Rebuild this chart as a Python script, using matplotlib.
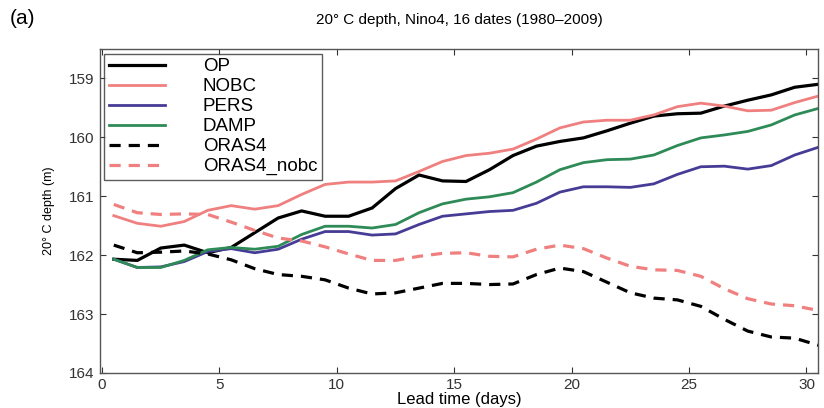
import numpy as np
import matplotlib
matplotlib.use("Agg")
import matplotlib.pyplot as plt

plt.rcParams['font.family'] = ['Liberation Sans', 'DejaVu Sans']

# lead time (days), one point per day
lead = [0.5 + i for i in range(31)]

op = [162.07, 162.09, 161.88, 161.83, 161.96, 161.87, 161.62, 161.37, 161.25, 161.34,
      161.34, 161.20, 160.87, 160.64, 160.74, 160.75, 160.55, 160.31, 160.15, 160.07,
      160.01, 159.89, 159.76, 159.64, 159.60, 159.59, 159.47, 159.37, 159.28, 159.15, 159.10]
nobc = [161.33, 161.46, 161.51, 161.43, 161.24, 161.16, 161.22, 161.16, 160.97, 160.80,
        160.76, 160.76, 160.74, 160.58, 160.41, 160.31, 160.27, 160.20, 160.03, 159.84,
        159.74, 159.71, 159.71, 159.62, 159.48, 159.42, 159.47, 159.55, 159.54, 159.41, 159.30]
pers = [162.07, 162.21, 162.20, 162.11, 161.94, 161.89, 161.96, 161.90, 161.73, 161.60,
        161.60, 161.66, 161.64, 161.48, 161.34, 161.30, 161.26, 161.24, 161.12, 160.93,
        160.84, 160.84, 160.85, 160.79, 160.63, 160.50, 160.49, 160.54, 160.48, 160.30, 160.17]
damp = [162.07, 162.21, 162.21, 162.09, 161.91, 161.87, 161.90, 161.85, 161.65, 161.51,
        161.51, 161.54, 161.48, 161.28, 161.13, 161.05, 161.01, 160.94, 160.76, 160.55,
        160.43, 160.38, 160.37, 160.30, 160.14, 160.01, 159.96, 159.90, 159.79, 159.62, 159.51]
oras4 = [161.83, 161.96, 161.95, 161.93, 161.98, 162.08, 162.23, 162.33, 162.36, 162.42,
         162.56, 162.66, 162.64, 162.56, 162.48, 162.48, 162.50, 162.49, 162.33, 162.22,
         162.28, 162.46, 162.64, 162.73, 162.76, 162.87, 163.09, 163.29, 163.39, 163.41, 163.53]
oras4_nobc = [161.14, 161.28, 161.31, 161.30, 161.31, 161.44, 161.58, 161.71, 161.76, 161.86,
              161.98, 162.09, 162.09, 162.02, 161.97, 161.96, 162.02, 162.03, 161.90, 161.83,
              161.89, 162.05, 162.19, 162.25, 162.26, 162.36, 162.57, 162.74, 162.83, 162.86, 162.94]

fig = plt.figure(figsize=(8.24, 4.08), dpi=100)
ax = fig.add_axes([0.121, 0.086, 0.872, 0.794])

pink = '#f08080'
ax.plot(lead, op, color='black', lw=2.3, label='OP')
ax.plot(lead, nobc, color=pink, lw=2.0, label='NOBC')
ax.plot(lead, pers, color='#463c96', lw=2.0, label='PERS')
ax.plot(lead, damp, color='#2e8b57', lw=2.0, label='DAMP')
ax.plot(lead, oras4, color='black', lw=2.3, ls=(0, (3.5, 2.5)), label='ORAS4')
ax.plot(lead, oras4_nobc, color=pink, lw=2.3, ls=(0, (3.5, 2.5)), label='ORAS4_nobc')

ax.set_xlim(-0.1, 30.5)
ax.set_ylim(164, 158.5)
ax.set_xticks([0, 5, 10, 15, 20, 25, 30])
ax.set_yticks([159, 160, 161, 162, 163, 164])
ax.tick_params(direction='in', top=True, right=True, length=4, labelsize=11, colors='#333333')
for s in ax.spines.values():
    s.set_color('#555555')
    s.set_linewidth(1.0)

ax.set_xlabel('Lead time (days)', fontsize=12, labelpad=0)
ax.set_ylabel('20° C depth (m)', fontsize=9, labelpad=10)
ax.set_title('20° C depth, Nino4, 16 dates (1980–2009)', fontsize=11, pad=18)
fig.text(0.012, 0.955, '(a)', fontsize=15, va='center')

leg = ax.legend(loc='upper left', fontsize=13.5, frameon=True, fancybox=False,
                handlelength=3.0, borderaxespad=0.25, labelspacing=0.15,
                handletextpad=2.0, borderpad=0.25)
leg.get_frame().set_edgecolor('#333333')
leg.get_frame().set_linewidth(1.0)

fig.savefig('out.png', dpi=100)
